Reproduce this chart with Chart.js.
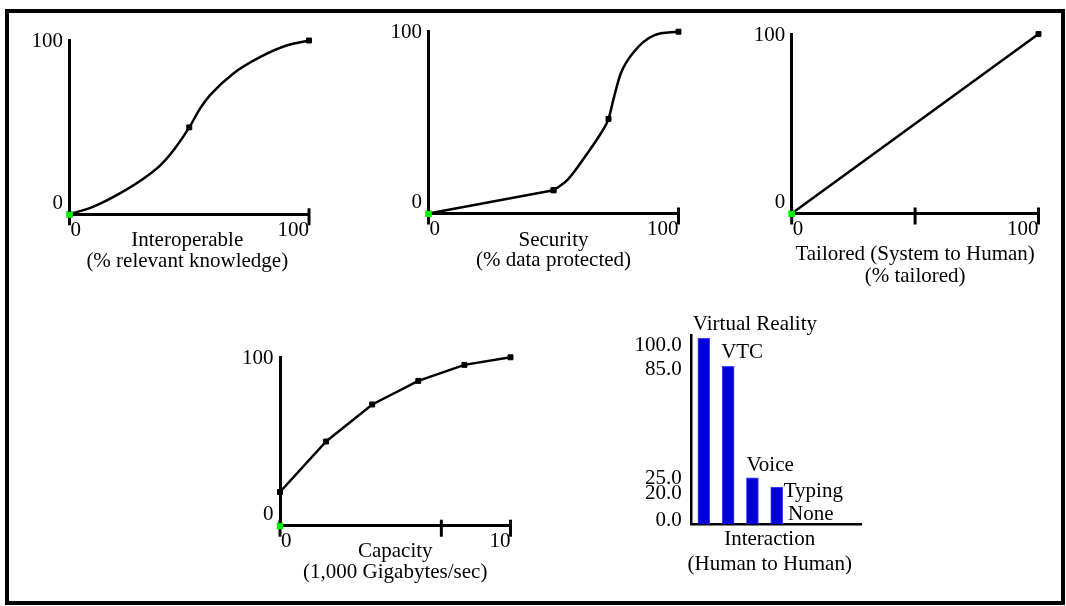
<!DOCTYPE html>
<html>
<head>
    <title>Capability curves</title>
    <script src="https://cdn.jsdelivr.net/npm/chart.js"></script>
    <style>
        body { margin: 0; background: #fff; }
        #page { position: relative; width: 1066px; height: 606px; overflow: hidden; }
        #frame { position: absolute; left: 5px; top: 9px; width: 1060px; height: 596px; box-sizing: border-box; border: 4px solid #000; }
        canvas { position: absolute; left: 0; top: 0; }
    </style>
</head>
<body>
<div id="page">
    <div id="frame"></div>
    <canvas id="interop" width="1066" height="606"></canvas>
    <canvas id="security" width="1066" height="606"></canvas>
    <canvas id="tailored" width="1066" height="606"></canvas>
    <canvas id="capacity" width="1066" height="606"></canvas>
    <canvas id="interaction" width="1066" height="606"></canvas>
</div>
<script type="text/javascript">
// values
var interopX = [0, 10, 21, 32, 38, 44, 50, 54.5, 58.6, 68.3, 79.5, 90.6, 100];
var interopY = [0, 4.4, 12, 21.6, 28.3, 37.9, 50, 60.8, 68.4, 80.9, 90.4, 97.1, 100];
var interopMarked = [50, 100];

var securityX = [0, 50, 55.5, 63.5, 68.9, 72, 74.2, 76.9, 82.2, 90.2, 100];
var securityY = [0, 12.8, 18.3, 33, 44, 52, 64, 77, 89, 98, 100];
var securityMarked = [50, 72, 100];

var tailoredX = [0, 100];
var tailoredY = [0, 100];
var tailoredMarked = [100];

var capacityX = [0, 2, 4, 6, 8, 10];
var capacityY = [20, 50, 72, 86, 95.5, 100];
var capacityMarked = [0, 2, 4, 6, 8, 10];

var originMarker = [0, 0];   // green marker sitting on each origin

var pctTicks = [0, 100];
var tailoredTicks = [0, 50, 100];
var capacityTicks = [0, 7, 10];
var pctLabels = ['0', '100'];
var capacityLabels = ['0', '10'];
var yLabels = ['0', '100'];

var interactionCats = ['Virtual Reality', 'VTC', 'Voice', 'Typing', 'None'];
var interactionVals = [100, 85, 25, 20, 0];
var interactionTicks = [0, 20, 25, 85, 100];

var FONT = '21px "Liberation Serif", "Times New Roman", serif';
var W = 1066, H = 606;

function pts(xs, ys) {
    return xs.map(function (x, i) { return { x: x, y: ys[i] }; });
}

function pad(a) {
    return { left: a[0], top: a[1], right: W - a[2], bottom: H - a[3] };
}

function lineSet(data, marked, smooth) {
    return {
        data: data,
        borderColor: '#000',
        borderWidth: 2.5,
        tension: 0,
        cubicInterpolationMode: smooth ? 'monotone' : 'default',
        pointStyle: 'rect',
        pointBackgroundColor: '#000',
        pointBorderColor: '#000',
        pointBorderWidth: 1,
        pointRadius: function (c) { return marked.indexOf(c.raw.x) >= 0 ? 3.5 : 0; },
        clip: false
    };
}

function curveChart(id, o) {
    var green = {
        data: [{ x: originMarker[0], y: originMarker[1] }],
        showLine: false,
        pointStyle: 'rect',
        pointRadius: 4.5,
        pointBackgroundColor: '#00f000',
        pointBorderColor: '#00f000',
        pointBorderWidth: 0,
        clip: false
    };
    var deco = {
        id: 'deco',
        afterDraw: function (chart) {
            var ctx = chart.ctx, xs = chart.scales.x, ys = chart.scales.y;
            var axisY = ys.getPixelForValue(0), axisX = xs.getPixelForValue(xs.min);
            ctx.save();
            ctx.strokeStyle = '#000';
            ctx.lineWidth = 3;
            o.xTicks.forEach(function (v) {
                var px = xs.getPixelForValue(v);
                ctx.beginPath();
                ctx.moveTo(px, axisY - 6);
                ctx.lineTo(px, axisY + 11);
                ctx.stroke();
            });
            ctx.fillStyle = '#000';
            ctx.font = FONT;
            ctx.textBaseline = 'middle';
            ctx.textAlign = 'left';
            ctx.fillText(o.xLabels[0], axisX + 1, axisY + 16);
            ctx.textAlign = 'right';
            ctx.fillText(o.xLabels[1], xs.getPixelForValue(xs.max), axisY + 16);
            ctx.fillText(yLabels[0], axisX - 6.5, axisY - 11);
            ctx.fillText(yLabels[1], axisX - 6.5, ys.getPixelForValue(100) + 1);
            ctx.textAlign = 'center';
            ctx.textBaseline = 'alphabetic';
            var cx = (xs.left + xs.right) / 2 + (o.titleDx || 0);
            ctx.fillText(o.title[0], cx, axisY + o.titleBase[0]);
            ctx.fillText(o.title[1], cx, axisY + o.titleBase[1]);
            // green origin marker goes over the axis lines
            var gx = xs.getPixelForValue(originMarker[0]), gy = ys.getPixelForValue(originMarker[1]);
            ctx.fillStyle = '#00f000';
            ctx.fillRect(gx - 3, gy - 2.5, 6, 6);
            ctx.restore();
        }
    };
    return new Chart(document.getElementById(id), {
        type: 'line',
        data: { datasets: [green].concat(o.datasets) },
        options: {
            responsive: false,
            animation: false,
            layout: { padding: pad(o.area) },
            plugins: { legend: { display: false }, tooltip: { enabled: false } },
            scales: {
                x: {
                    type: 'linear', min: 0, max: o.xMax, offset: false,
                    grid: { display: false, drawTicks: false },
                    ticks: { display: false },
                    border: { display: true, color: '#000', width: 3 }
                },
                y: {
                    type: 'linear', min: 0, max: 100,
                    grid: { display: false, drawTicks: false },
                    ticks: { display: false },
                    border: { display: true, color: '#000', width: 3 }
                }
            }
        },
        plugins: [deco]
    });
}

curveChart('interop', {
    area: [69.5, 40.5, 309, 214.3],
    xMax: 100,
    datasets: [lineSet(pts(interopX, interopY), interopMarked, true)],
    xTicks: pctTicks, xLabels: pctLabels,
    title: ['Interoperable', '(% relevant knowledge)'],
    titleBase: [32, 53], titleDx: -2
});

var secPts = pts(securityX, securityY);
curveChart('security', {
    area: [428.5, 31.7, 678.5, 213.5],
    xMax: 100,
    datasets: [
        lineSet(secPts.slice(0, 2), securityMarked, false),
        lineSet(secPts.slice(1), securityMarked, true)
    ],
    xTicks: pctTicks, xLabels: pctLabels,
    title: ['Security', '(% data protected)'],
    titleBase: [32, 52]
});

curveChart('tailored', {
    area: [791.7, 34, 1038.5, 213.5],
    xMax: 100,
    datasets: [lineSet(pts(tailoredX, tailoredY), tailoredMarked, false)],
    xTicks: tailoredTicks, xLabels: pctLabels,
    title: ['Tailored (System to Human)', '(% tailored)'],
    titleBase: [46.5, 68]
});

curveChart('capacity', {
    area: [280, 357.3, 510.5, 525.7],
    xMax: 10,
    datasets: [lineSet(pts(capacityX, capacityY), capacityMarked, false)],
    xTicks: capacityTicks, xLabels: capacityLabels,
    title: ['Capacity', '(1,000 Gigabytes/sec)'],
    titleBase: [31, 52]
});

// bar chart: Interaction (Human to Human)
var barLabelNudge = [[-5, -8], [-1, -8.5], [0, -6.5], [13, 10], [-7, -4]];
var yLabelNudge = { 0: -4, 20: 6, 25: 1, 85: 3, 100: 7 };

var barDeco = {
    id: 'barDeco',
    afterDraw: function (chart) {
        var ctx = chart.ctx, xs = chart.scales.x, ys = chart.scales.y;
        var axisY = ys.getPixelForValue(0);
        ctx.save();
        ctx.fillStyle = '#000';
        ctx.font = FONT;
        ctx.textAlign = 'right';
        ctx.textBaseline = 'middle';
        interactionTicks.forEach(function (v) {
            ctx.fillText(v.toFixed(1), xs.left - 10, ys.getPixelForValue(v) + yLabelNudge[v]);
        });
        ctx.textAlign = 'left';
        ctx.textBaseline = 'alphabetic';
        chart.getDatasetMeta(0).data.forEach(function (bar, i) {
            var left = bar.x - bar.width / 2;
            ctx.fillText(interactionCats[i], left + barLabelNudge[i][0], bar.y + barLabelNudge[i][1]);
        });
        ctx.textAlign = 'center';
        var cx = (xs.left + xs.right) / 2 - 7;
        ctx.fillText('Interaction', cx, axisY + 21);
        ctx.fillText('(Human to Human)', cx, axisY + 46);
        ctx.restore();
    }
};

new Chart(document.getElementById('interaction'), {
    type: 'bar',
    data: {
        datasets: [{
            data: interactionVals.map(function (v, i) { return { x: i, y: v }; }),
            backgroundColor: '#0000d6',
            borderColor: '#4848ff',
            borderWidth: 1,
            barThickness: 12,
            clip: false
        }]
    },
    options: {
        responsive: false,
        animation: false,
        layout: { padding: pad([691.7, 335, 861.7, 524.3]) },
        plugins: { legend: { display: false }, tooltip: { enabled: false } },
        scales: {
            x: {
                type: 'linear', min: -0.5, max: 6.5, offset: false,
                grid: { display: false, drawTicks: false, offset: false },
                ticks: { display: false },
                border: { display: true, color: '#000', width: 2.5 }
            },
            y: {
                type: 'linear', min: 0, max: 101.8,
                grid: { display: false, drawTicks: false },
                ticks: { display: false },
                border: { display: true, color: '#000', width: 2.5 }
            }
        }
    },
    plugins: [barDeco]
});
</script>
</body>
</html>
